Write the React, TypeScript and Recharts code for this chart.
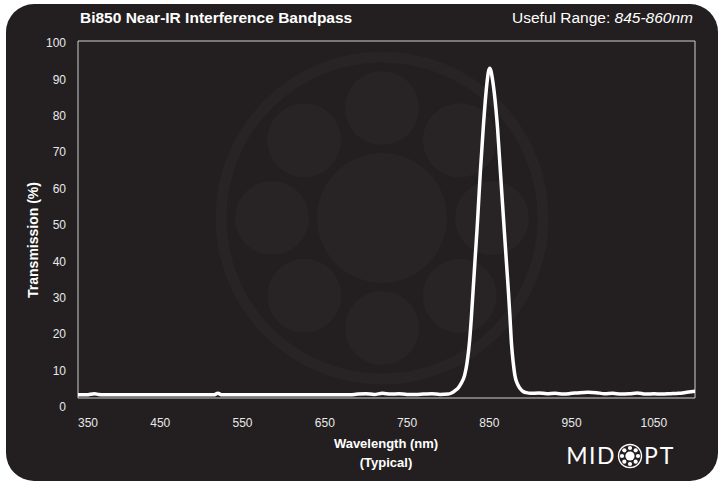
import React from 'react';
import { LineChart, Line, XAxis, YAxis, ReferenceArea } from 'recharts';

// spectrum
const wavelengths = [
    350, 360, 370, 375, 380, 400, 450, 500, 515, 520, 525, 560, 600, 650, 680, 690, 700, 710, 720, 730, 740,
    750, 760, 770, 780, 790, 800, 804, 808, 812, 816, 820, 823, 826, 828, 830.5, 833, 835, 837, 839, 841, 843,
    845, 847, 849, 850.5, 852, 854, 856, 858, 860, 862, 864, 866, 868, 870.5, 873, 875, 877, 879, 881, 884,
    887, 891, 895, 900, 910, 920, 930, 940, 950, 960, 970, 980, 990, 1000, 1010, 1020, 1030, 1040, 1050, 1060,
    1070, 1080, 1090, 1100,
];
const transmission = [
    0.9, 0.9, 1.2, 1.0, 0.9, 0.9, 0.9, 0.9, 0.9, 1.3, 0.9, 0.9, 0.9, 0.9, 0.9, 1.1, 1.2, 1.0, 1.3, 1.1, 1.2,
    1.0, 1.0, 1.1, 1.2, 1.0, 1.1, 1.4, 2.0, 2.8, 4.2, 6.4, 10, 16, 22, 31, 40, 47, 55, 63, 70, 77,
    83, 88, 91.5, 92.4, 91.6, 89, 85.5, 81, 75.5, 68.5, 61.5, 54.5, 47.5, 39, 30.5, 23, 15, 10, 6.4, 4,
    2.8, 1.8, 1.5, 1.3, 1.4, 1.2, 1.3, 1.1, 1.3, 1.5, 1.6, 1.5, 1.2, 1.3, 1.1, 1.2, 1.4, 1.1, 1.2, 1.1,
    1.2, 1.3, 1.6, 1.9,
];
const xTicks = [350, 450, 550, 650, 750, 850, 950, 1050];
const yTicks = [0, 10, 20, 30, 40, 50, 60, 70, 80, 90, 100];

const data = wavelengths.map((nm, i) => ({ nm, t: transmission[i] }));

const FONT = '"Liberation Sans", Arial, sans-serif';
const BG = '#231f20';
const MARK = '#282425';

const YTick = (props: any) => {
    const { x, y, payload } = props;
    // labels in the original drift down a little toward the bottom
    const shift = 2 + (100 - payload.value) * 0.07;
    return (
        <text x={x} y={y + shift} dy="0.35em" textAnchor="end" fill="#e8e8e8" fontSize={12} fontFamily={FONT}>
            {payload.value}
        </text>
    );
};

const XTick = (props: any) => {
    const { x, y, payload, index } = props;
    const first = index === 0;
    return (
        <text x={x} y={y + 25} dy="0.35em" textAnchor={first ? 'start' : 'middle'} fill="#e8e8e8" fontSize={12} fontFamily={FONT}>
            {payload.value}
        </text>
    );
};

const Watermark = () => {
    const cx = 382;
    const cy = 218;
    const spokes = [0, 45, 90, 135, 180, 225, 270, 315];
    return (
        <svg width={725} height={484} style={{ position: 'absolute', left: 0, top: 0 }}>
            <rect x={6} y={4} width={712} height={477} rx={28} fill={BG} />
            <circle cx={cx} cy={cy} r={161} fill="none" stroke={MARK} strokeWidth={11} />
            <circle cx={cx} cy={cy} r={65} fill={MARK} />
            {spokes.map((a) => (
                <circle
                    key={a}
                    cx={cx + 110 * Math.cos((a * Math.PI) / 180)}
                    cy={cy + 110 * Math.sin((a * Math.PI) / 180)}
                    r={37}
                    fill={MARK}
                />
            ))}
        </svg>
    );
};

const Logo = () => {
    const cx = 630;
    const cy = 456;
    const spokes = [0, 45, 90, 135, 180, 225, 270, 315];
    return (
        <g>
            <text x={616} y={464} textAnchor="end" fill="#ffffff" fontSize={23} fontFamily="Lato, sans-serif" fontWeight={400} letterSpacing={1.5}>
                MID
            </text>
            <circle cx={cx} cy={cy} r={11.5} fill="none" stroke="#ffffff" strokeWidth={1.4} />
            <circle cx={cx} cy={cy} r={4.6} fill="#ffffff" />
            {spokes.map((a) => (
                <circle
                    key={a}
                    cx={cx + 8 * Math.cos((a * Math.PI) / 180)}
                    cy={cy + 8 * Math.sin((a * Math.PI) / 180)}
                    r={2.1}
                    fill="#ffffff"
                />
            ))}
            <text x={644} y={464} textAnchor="start" fill="#ffffff" fontSize={23} fontFamily="Lato, sans-serif" fontWeight={400} letterSpacing={2}>
                PT
            </text>
        </g>
    );
};

const Labels = () => (
    <svg width={725} height={484} style={{ position: 'absolute', left: 0, top: 0, pointerEvents: 'none' }}>
        <text x={80} y={23} fill="#ffffff" fontSize={15.5} fontWeight="bold" fontFamily={FONT}>
            Bi850 Near-IR Interference Bandpass
        </text>
        <text x={693} y={23} textAnchor="end" fill="#ffffff" fontSize={15.5} fontFamily={FONT}>
            Useful Range: <tspan fontStyle="italic">845-860nm</tspan>
        </text>
        <text x={386} y={448} textAnchor="middle" fill="#ffffff" fontSize={13} fontWeight="bold" fontFamily={FONT}>
            Wavelength (nm)
        </text>
        <text x={386} y={467} textAnchor="middle" fill="#ffffff" fontSize={13} fontWeight="bold" fontFamily={FONT}>
            (Typical)
        </text>
        <text
            x={0}
            y={0}
            transform="translate(38, 240) rotate(-90)"
            textAnchor="middle"
            fill="#ffffff"
            fontSize={14}
            fontWeight="bold"
            fontFamily={FONT}
        >
            Transmission (%)
        </text>
        <Logo />
    </svg>
);

const App: React.FC = () => {
    return (
        <div style={{ position: 'absolute', left: 0, top: 0, width: 725, height: 484, background: '#ffffff' }}>
            <Watermark />
            <div style={{ position: 'absolute', left: 0, top: 0 }}>
                <LineChart width={725} height={484} data={data} margin={{ top: 41, right: 30, bottom: 56, left: 0 }}>
                    <XAxis
                        dataKey="nm"
                        type="number"
                        domain={[350, 1100]}
                        ticks={xTicks}
                        height={30}
                        tickSize={0}
                        tickMargin={0}
                        tickLine={false}
                        axisLine={false}
                        tick={<XTick />}
                        allowDataOverflow
                    />
                    <YAxis
                        type="number"
                        domain={[0, 100]}
                        ticks={yTicks}
                        width={78}
                        tickSize={0}
                        tickMargin={12}
                        tickLine={false}
                        axisLine={false}
                        tick={<YTick />}
                        allowDataOverflow
                    />
                    <ReferenceArea x1={350} x2={1100} y1={0} y2={100} fill="none" stroke="#cfcfcf" strokeWidth={1} />
                    <Line
                        dataKey="t"
                        type="monotone"
                        stroke="#ffffff"
                        strokeWidth={3.5}
                        dot={false}
                        activeDot={false}
                        isAnimationActive={false}
                    />
                </LineChart>
            </div>
            <Labels />
        </div>
    );
};

export default App;
